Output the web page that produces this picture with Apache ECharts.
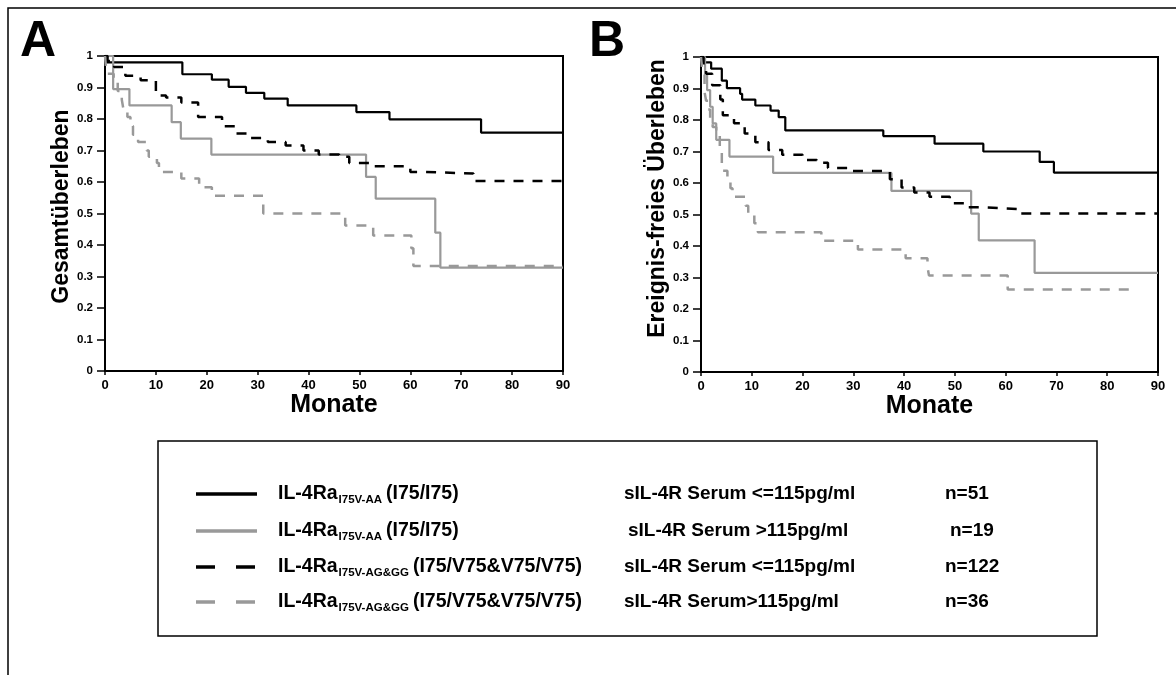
<!DOCTYPE html>
<html>
<head>
<meta charset="utf-8">
<script src="https://cdn.jsdelivr.net/npm/echarts@6/dist/echarts.min.js"></script>
<style>
html, body { margin: 0; padding: 0; background: #fff; }
#main { width: 1176px; height: 675px; }
</style>
</head>
<body>
<div id="main"></div>
<script>
var FONT = '"Liberation Sans", Arial, Helvetica, sans-serif';
var GRAY = '#999999';

// x ticks (Monate)
var monthMax = 90;

// Panel A - Gesamtüberleben
var aT_AA_low = [0, 0.3, 15.2, 21, 24.3, 27.7, 31.3, 35.9, 49.4, 55.9, 73.9, 90];
var aS_AA_low = [1, 0.98, 0.942, 0.925, 0.902, 0.883, 0.865, 0.843, 0.822, 0.799, 0.757, 0.757];
var aT_AA_high = [0, 1.6, 4.8, 13.1, 14.9, 20.9, 51.3, 53.2, 64.9, 65.9, 90];
var aS_AA_high = [1, 0.895, 0.843, 0.79, 0.738, 0.687, 0.616, 0.547, 0.439, 0.328, 0.328];
var aT_AG_low = [0, 0.5, 1.8, 4, 7, 10, 12, 15, 18.3, 23, 25.5, 28, 32, 35.5, 39, 42, 46, 48, 52, 60, 62.5, 72.4, 90];
var aS_AG_low = [1, 0.984, 0.965, 0.937, 0.923, 0.875, 0.868, 0.852, 0.806, 0.777, 0.754, 0.74, 0.727, 0.716, 0.7, 0.687, 0.68, 0.66, 0.65, 0.632, 0.627, 0.603, 0.603];
var aT_AG_high = [0, 0.3, 1.7, 2.5, 3.3, 3.6, 4.4, 5, 5.5, 6.5, 8.2, 8.6, 10.2, 10.6, 15, 18.5, 21, 31.1, 47.2, 52.7, 60.2, 60.6, 90];
var aS_AG_high = [1, 0.944, 0.917, 0.889, 0.861, 0.833, 0.806, 0.778, 0.75, 0.727, 0.7, 0.68, 0.66, 0.632, 0.611, 0.583, 0.556, 0.5, 0.462, 0.43, 0.39, 0.333, 0.333];

// Panel B - Ereignis-freies Überleben
var bT_AA_low = [0, 0.4, 2, 4.1, 5.1, 7.7, 8.1, 10.7, 13.7, 15.3, 16.6, 35.9, 46, 55.6, 66.7, 69.5, 90];
var bS_AA_low = [1, 0.983, 0.963, 0.925, 0.901, 0.883, 0.865, 0.846, 0.83, 0.809, 0.767, 0.749, 0.725, 0.7, 0.667, 0.633, 0.633];
var bT_AA_high = [0, 0.8, 1.2, 1.8, 2.3, 3, 5.6, 14.2, 37.5, 53.2, 54.7, 65.7, 90];
var bS_AA_high = [1, 0.947, 0.895, 0.842, 0.789, 0.737, 0.684, 0.632, 0.575, 0.503, 0.418, 0.315, 0.315];
var bT_AG_low = [0, 0.5, 1, 2.2, 3.8, 4.3, 6.5, 8.6, 10.7, 13.3, 16, 20, 22.8, 25, 29, 37.2, 39.5, 42, 45, 49, 52, 55.3, 63, 90];
var bS_AG_low = [1, 0.975, 0.947, 0.91, 0.865, 0.815, 0.79, 0.757, 0.729, 0.705, 0.69, 0.673, 0.664, 0.648, 0.638, 0.612, 0.586, 0.57, 0.556, 0.536, 0.523, 0.517, 0.503, 0.503];
var bT_AG_high = [0, 0.3, 0.7, 1, 1.4, 1.8, 2.3, 3, 3.7, 4.1, 5.2, 5.8, 6.2, 8.8, 9.3, 10.5, 11.2, 23.7, 30.9, 40.3, 44.6, 44.9, 60.4, 85.6];
var bS_AG_high = [1, 0.944, 0.889, 0.861, 0.833, 0.806, 0.778, 0.75, 0.7, 0.639, 0.611, 0.583, 0.556, 0.528, 0.5, 0.472, 0.444, 0.417, 0.389, 0.361, 0.333, 0.306, 0.262, 0.262];

// legend rows
var legSub = ['I75V-AA', 'I75V-AA', 'I75V-AG&GG', 'I75V-AG&GG'];
var legGeno = ['(I75/I75)', '(I75/I75)', '(I75/V75&V75/V75)', '(I75/V75&V75/V75)'];
var legSerum = ['sIL-4R Serum <=115pg/ml', 'sIL-4R Serum >115pg/ml', 'sIL-4R Serum <=115pg/ml', 'sIL-4R Serum>115pg/ml'];
var legN = ['n=51', 'n=19', 'n=122', 'n=36'];
var legColor = ['#000', GRAY, '#000', GRAY];
var legDashed = [false, false, true, true];

function pairs(t, s) {
	var res = [];
	for (var i = 0; i < t.length; i++) res.push([t[i], s[i]]);
	return res;
}

function km(idx, t, s, color, dashed) {
	return {
		type: 'line',
		xAxisIndex: idx,
		yAxisIndex: idx,
		step: 'end',
		showSymbol: false,
		silent: true,
		data: pairs(t, s),
		lineStyle: {
			color: color,
			width: dashed ? 2.5 : 2.2,
			type: dashed ? [10, 9] : 'solid'
		},
		z: dashed ? 3 : 2
	};
}

function xAx(idx) {
	return {
		type: 'value', gridIndex: idx, min: 0, max: monthMax, interval: 10,
		name: 'Monate', nameLocation: 'middle', nameGap: 14,
		nameTextStyle: { fontFamily: FONT, fontWeight: 'bold', fontSize: 25, color: '#000' },
		axisLine: { lineStyle: { color: '#000', width: 2 } },
		axisTick: { length: 4, lineStyle: { color: '#000', width: 1.5 } },
		axisLabel: { fontFamily: FONT, fontWeight: 'bold', fontSize: 13, color: '#000', margin: 8 },
		splitLine: { show: false }
	};
}

function yAx(idx, name, gap, shift) {
	return {
		type: 'value', gridIndex: idx, min: 0, max: 1, interval: 0.1,
		name: name, nameLocation: 'middle', nameGap: gap,
		nameTextStyle: { fontFamily: FONT, fontWeight: 'bold', fontSize: 23, color: '#000', padding: [0, 0, 0, shift] },
		axisLine: { lineStyle: { color: '#000', width: 2 } },
		axisTick: { length: 8, lineStyle: { color: '#000', width: 1.5 } },
		axisLabel: {
			fontFamily: FONT, fontWeight: 'bold', fontSize: 11.5, color: '#000', margin: 12,
			formatter: function (v) { return String(Math.round(v * 10) / 10); }
		},
		splitLine: { show: false }
	};
}

// text measuring for the legend subscripts
var mctx = document.createElement('canvas').getContext('2d');
function tw(str, size) {
	mctx.font = 'bold ' + size + 'px ' + FONT;
	return mctx.measureText(str).width;
}

function txt(x, y, str, size) {
	return {
		type: 'text', silent: true,
		style: {
			text: str, x: x, y: y,
			font: 'bold ' + size + 'px ' + FONT,
			fill: '#000',
			textAlign: 'left', align: 'left',
			textVerticalAlign: 'middle', verticalAlign: 'middle'
		}
	};
}

var graphics = [
	{ type: 'rect', silent: true, shape: { x: 8, y: 8, width: 1400, height: 900 }, style: { fill: 'none', stroke: '#000', lineWidth: 1.5 } },
	{ type: 'rect', silent: true, shape: { x: 158, y: 441, width: 939, height: 195 }, style: { fill: 'none', stroke: '#000', lineWidth: 1.5 } },
	txt(20, 42, 'A', 50),
	txt(589, 42, 'B', 50)
];

var rowY = [494, 531, 567, 602];
for (var i = 0; i < 4; i++) {
	var y = rowY[i];
	graphics.push({
		type: 'line', silent: true,
		shape: { x1: 196, y1: y, x2: 257, y2: y },
		style: { stroke: legColor[i], lineWidth: 3.5, lineDash: legDashed[i] ? [19, 21] : null }
	});
	var x0 = 278;
	graphics.push(txt(x0, y, 'IL-4Ra', 19.5));
	var x1 = x0 + tw('IL-4Ra', 19.5) + 1;
	graphics.push(txt(x1, y + 6, legSub[i], 11.5));
	var x2 = x1 + tw(legSub[i], 11.5) + 4;
	graphics.push(txt(x2, y, legGeno[i], 19.5));
	graphics.push(txt(i === 1 ? 628 : 624, y, legSerum[i], 19));
	graphics.push(txt(i === 1 ? 950 : 945, y, legN[i], 19));
}

var chart = echarts.init(document.getElementById('main'));
chart.setOption({
	animation: false,
	backgroundColor: '#fff',
	grid: [
		{ left: 105, top: 56, width: 458, height: 315, show: true, borderColor: '#000', borderWidth: 2 },
		{ left: 701, top: 57, width: 457, height: 315, show: true, borderColor: '#000', borderWidth: 2 }
	],
	xAxis: [xAx(0), xAx(1)],
	yAxis: [yAx(0, 'Gesamtüberleben', 22, 14), yAx(1, 'Ereignis-freies Überleben', 21, 32)],
	series: [
		km(0, aT_AA_low, aS_AA_low, '#000', false),
		km(0, aT_AA_high, aS_AA_high, GRAY, false),
		km(0, aT_AG_low, aS_AG_low, '#000', true),
		km(0, aT_AG_high, aS_AG_high, GRAY, true),
		km(1, bT_AA_low, bS_AA_low, '#000', false),
		km(1, bT_AA_high, bS_AA_high, GRAY, false),
		km(1, bT_AG_low, bS_AG_low, '#000', true),
		km(1, bT_AG_high, bS_AG_high, GRAY, true)
	],
	graphic: graphics
});
</script>
</body>
</html>
